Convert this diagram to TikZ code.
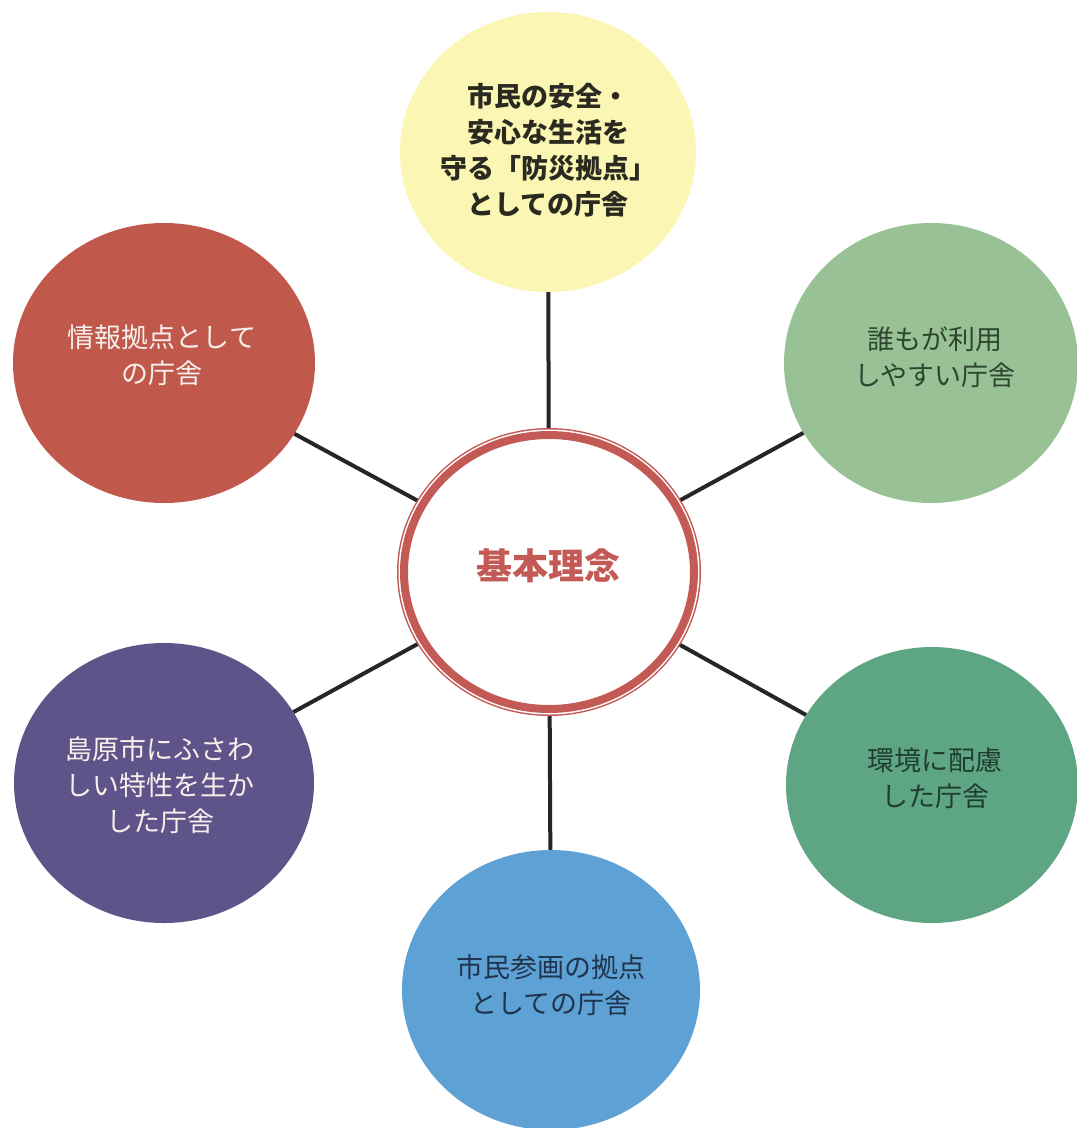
\documentclass[tikz,border=0pt]{standalone}
\usepackage{fontspec}
\newfontfamily\jp{Noto Sans CJK JP}
\usetikzlibrary{shapes.geometric}
\pgfdeclarelayer{bg}
\pgfsetlayers{bg,main}
\definecolor{cyellow}{HTML}{FBF6B3}
\definecolor{cred}{HTML}{C1584C}
\definecolor{cgreen}{HTML}{98C295}
\definecolor{cpurple}{HTML}{5F548A}
\definecolor{cteal}{HTML}{5EA584}
\definecolor{cblue}{HTML}{5EA1D4}
\definecolor{cring}{HTML}{C45A56}
\definecolor{clink}{HTML}{262626}
\definecolor{tdark}{HTML}{2A2A20}
\definecolor{tgreen}{HTML}{2E4630}
\definecolor{tteal}{HTML}{1F3D30}
\definecolor{tblue}{HTML}{1F344C}
\definecolor{tlight}{HTML}{F6F0EC}
\begin{document}
\begin{tikzpicture}[x=1pt,y=-1pt,
  bubble/.style={ellipse, minimum width=300, minimum height=280, inner sep=0, outer sep=0, draw=none},
  bubbletext/.style={font=\jp\fontsize{27}{36}\selectfont, align=center, inner sep=0},
  link/.style={draw=clink, line width=4}]
\useasboundingbox (0,0) rectangle (1077,1128);

\node[bubble, fill=cyellow, minimum width=296] (top) at (548,152) {};
\node[bubble, fill=cred, minimum width=302] (tl) at (164,363) {};
\node[bubble, fill=cgreen, minimum width=294] (tr) at (931,363) {};
\node[bubble, fill=cpurple] (bl) at (164,783) {};
\node[bubble, fill=cteal, minimum width=292, minimum height=276] (br) at (932,785) {};
\node[bubble, fill=cblue, minimum width=298] (bot) at (551,990) {};

\node[ellipse, minimum width=290, minimum height=274, inner sep=0, outer sep=0,
  preaction={draw=cring, line width=14},
  preaction={draw=white, line width=11},
  fill=white, draw=cring, line width=8] (c) at (549,572) {};

\node[bubbletext, text=tdark, font=\jp\bfseries\fontsize{27}{36}\selectfont] (ttop) at (548,150)
  {市民の安全・\\安心な生活を\\守る「防災拠点」\\としての庁舎};
\node[bubbletext, text=tlight] (ttl) at (162,355) {情報拠点として\\の庁舎};
\node[bubbletext, text=tgreen] (ttr) at (935,357) {誰もが利用\\しやすい庁舎};
\node[bubbletext, text=tlight] (tbl) at (160,785) {島原市にふさわ\\しい特性を生か\\した庁舎};
\node[bubbletext, text=tteal] (tbr) at (935,778) {環境に配慮\\した庁舎};
\node[bubbletext, text=tblue] (tbot) at (551,985) {市民参画の拠点\\としての庁舎};
\node[inner sep=0, text=cring, font=\jp\bfseries\fontsize{36}{40}\selectfont] (tc) at (548,566) {基本理念};

\begin{pgfonlayer}{bg}
  \draw[link] (c) -- (top);
  \draw[link] (c) -- (tl);
  \draw[link] (c) -- (tr);
  \draw[link] (c) -- (bl);
  \draw[link] (c) -- (br);
  \draw[link] (c) -- (bot);
\end{pgfonlayer}
\end{tikzpicture}
\end{document}
